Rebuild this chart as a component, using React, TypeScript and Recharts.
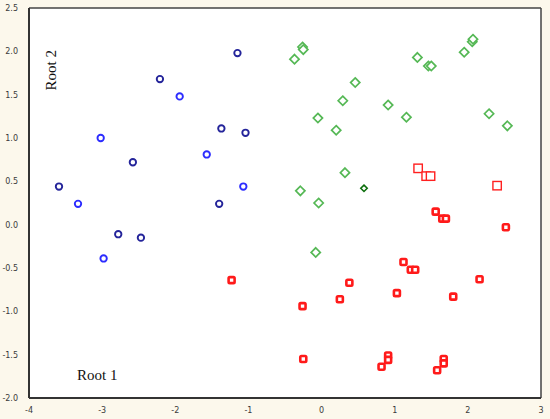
import React from "react";
import {
  ScatterChart,
  Scatter,
  XAxis,
  YAxis,
  CartesianGrid,
} from "recharts";

// Root 1 / Root 2 canonical scores
const blueDarkX = [-3.59, -2.58, -2.21, -1.37, -1.15, -1.04, -1.4, -2.78, -2.47];
const blueDarkY = [0.44, 0.72, 1.68, 1.11, 1.98, 1.06, 0.24, -0.11, -0.15];

const blueLightX = [-3.33, -3.02, -1.94, -1.57, -1.07, -2.98];
const blueLightY = [0.24, 1.0, 1.48, 0.81, 0.44, -0.39];

const greenX = [-0.26, -0.25, -0.37, 1.31, 1.46, 1.5, 1.95, 2.06, 2.07, 0.46, 0.29, 0.91, -0.05, 0.2, 1.16, 2.29, 2.54, 0.32, -0.29, -0.04, -0.08];
const greenY = [2.05, 2.02, 1.91, 1.93, 1.83, 1.83, 1.99, 2.11, 2.14, 1.64, 1.43, 1.38, 1.23, 1.09, 1.24, 1.28, 1.14, 0.6, 0.39, 0.25, -0.32];

const darkGreenX = [0.58];
const darkGreenY = [0.42];

const redOpenX = [1.32, 1.43, 1.49, 2.4];
const redOpenY = [0.65, 0.56, 0.56, 0.45];

const redX = [1.56, 1.65, 1.7, 2.52, 1.12, 1.22, 1.28, 2.16, 0.38, 0.25, 1.03, 1.8, -0.26, -0.25, 0.91, 0.91, 0.82, 1.67, 1.67, 1.58, -1.23];
const redY = [0.15, 0.07, 0.07, -0.03, -0.43, -0.52, -0.52, -0.63, -0.67, -0.86, -0.79, -0.83, -0.94, -1.55, -1.51, -1.56, -1.64, -1.55, -1.6, -1.68, -0.64];

const xTicks = [-4, -3, -2, -1, 0, 1, 2, 3];
const yTicks = [-2, -1.5, -1, -0.5, 0, 0.5, 1, 1.5, 2, 2.5];
const xMinor = Array.from({ length: 29 }, (_, i) => -4 + i * 0.25);
const yMinor = Array.from({ length: 46 }, (_, i) => Math.round((-2 + i * 0.1) * 10) / 10);
const yMinorRight = Array.from({ length: 19 }, (_, i) => -2 + i * 0.25);

const pts = (xs: number[], ys: number[]) => xs.map((x, i) => ({ x, y: ys[i] }));

const circle = (color: string) => (p: any) => (
  <circle cx={p.cx} cy={p.cy} r={3.2} fill="#fff" stroke={color} strokeWidth={1.9} />
);
const diamond = (color: string, s: number, w: number) => (p: any) => (
  <polygon
    points={`${p.cx},${p.cy - s} ${p.cx + s},${p.cy} ${p.cx},${p.cy + s} ${p.cx - s},${p.cy}`}
    fill="#fff"
    stroke={color}
    strokeWidth={w}
  />
);
const openSquare = (p: any) => (
  <rect x={p.cx - 4.2} y={p.cy - 4.2} width={8.4} height={8.4} fill="#fff" stroke="#ff2020" strokeWidth={1.4} />
);
const thickSquare = (p: any) => (
  <rect x={p.cx - 3} y={p.cy - 3} width={6} height={6} rx={1.2} fill="#fff" stroke="#ff1a1a" strokeWidth={2.6} />
);

const tickStyle = { fontSize: 8, fill: "#3a3a3a", fontFamily: "DejaVu Sans" };
const noLabel = () => <g />;
const minorProps = {
  type: "number" as const,
  interval: 0,
  mirror: true,
  tick: noLabel,
  tickSize: 3,
  tickLine: { stroke: "#444" },
};

export default function App() {
  return (
    <div style={{ position: "relative", width: 550, height: 419, background: "#fcf8ec" }}>
      <style>{"body{margin:0}"}</style>
      <ScatterChart width={550} height={419} margin={{ top: 8, right: 9, bottom: 0, left: 0 }}>
        <CartesianGrid horizontal={false} vertical={false} fill="#fff" />
        {/* thin mirrored axes first so they sit on the plot edge: inward minor ticks */}
        <XAxis xAxisId="minor" dataKey="x" domain={[-4, 3]} ticks={xMinor} height={1} axisLine={false} {...minorProps} />
        <YAxis yAxisId="minor" dataKey="y" domain={[-2, 2.5]} ticks={yMinor} width={1} axisLine={false} {...minorProps} />
        <XAxis
          xAxisId="top"
          orientation="top"
          dataKey="x"
          domain={[-4, 3]}
          ticks={xMinor}
          height={1}
          axisLine={{ stroke: "#444", strokeWidth: 1.5 }}
          {...minorProps}
        />
        <YAxis
          yAxisId="right"
          orientation="right"
          dataKey="y"
          domain={[-2, 2.5]}
          ticks={yMinorRight}
          width={1}
          axisLine={{ stroke: "#444", strokeWidth: 1.5 }}
          {...minorProps}
        />
        <XAxis
          type="number"
          dataKey="x"
          domain={[-4, 3]}
          ticks={xTicks}
          height={21}
          tickLine={false}
          tickMargin={3}
          tick={tickStyle}
          axisLine={{ stroke: "#333", strokeWidth: 2 }}
        />
        <YAxis
          type="number"
          dataKey="y"
          domain={[-2, 2.5]}
          ticks={yTicks}
          width={29}
          tickLine={false}
          tickMargin={5}
          tick={tickStyle}
          tickFormatter={(v: number) => v.toFixed(1)}
          axisLine={{ stroke: "#333", strokeWidth: 2 }}
        />
        <Scatter data={pts(greenX, greenY)} shape={diamond("#55b855", 4.6, 1.7)} isAnimationActive={false} />
        <Scatter data={pts(darkGreenX, darkGreenY)} shape={diamond("#0d6e0d", 3.2, 1.6)} isAnimationActive={false} />
        <Scatter data={pts(blueDarkX, blueDarkY)} shape={circle("#24249a")} isAnimationActive={false} />
        <Scatter data={pts(blueLightX, blueLightY)} shape={circle("#2c2cff")} isAnimationActive={false} />
        <Scatter data={pts(redOpenX, redOpenY)} shape={openSquare} isAnimationActive={false} />
        <Scatter data={pts(redX, redY)} shape={thickSquare} isAnimationActive={false} />
      </ScatterChart>
      <div
        style={{
          position: "absolute",
          left: 44,
          top: 50,
          whiteSpace: "nowrap",
          writingMode: "vertical-rl",
          transform: "rotate(180deg)",
          fontFamily: "Liberation Serif",
          fontSize: 15,
          lineHeight: "14px",
          color: "#111",
        }}
      >
        Root 2
      </div>
      <div
        style={{
          position: "absolute",
          left: 77,
          top: 367,
          whiteSpace: "nowrap",
          fontFamily: "Liberation Serif",
          fontSize: 15,
          lineHeight: "16px",
          color: "#111",
        }}
      >
        Root 1
      </div>
    </div>
  );
}
